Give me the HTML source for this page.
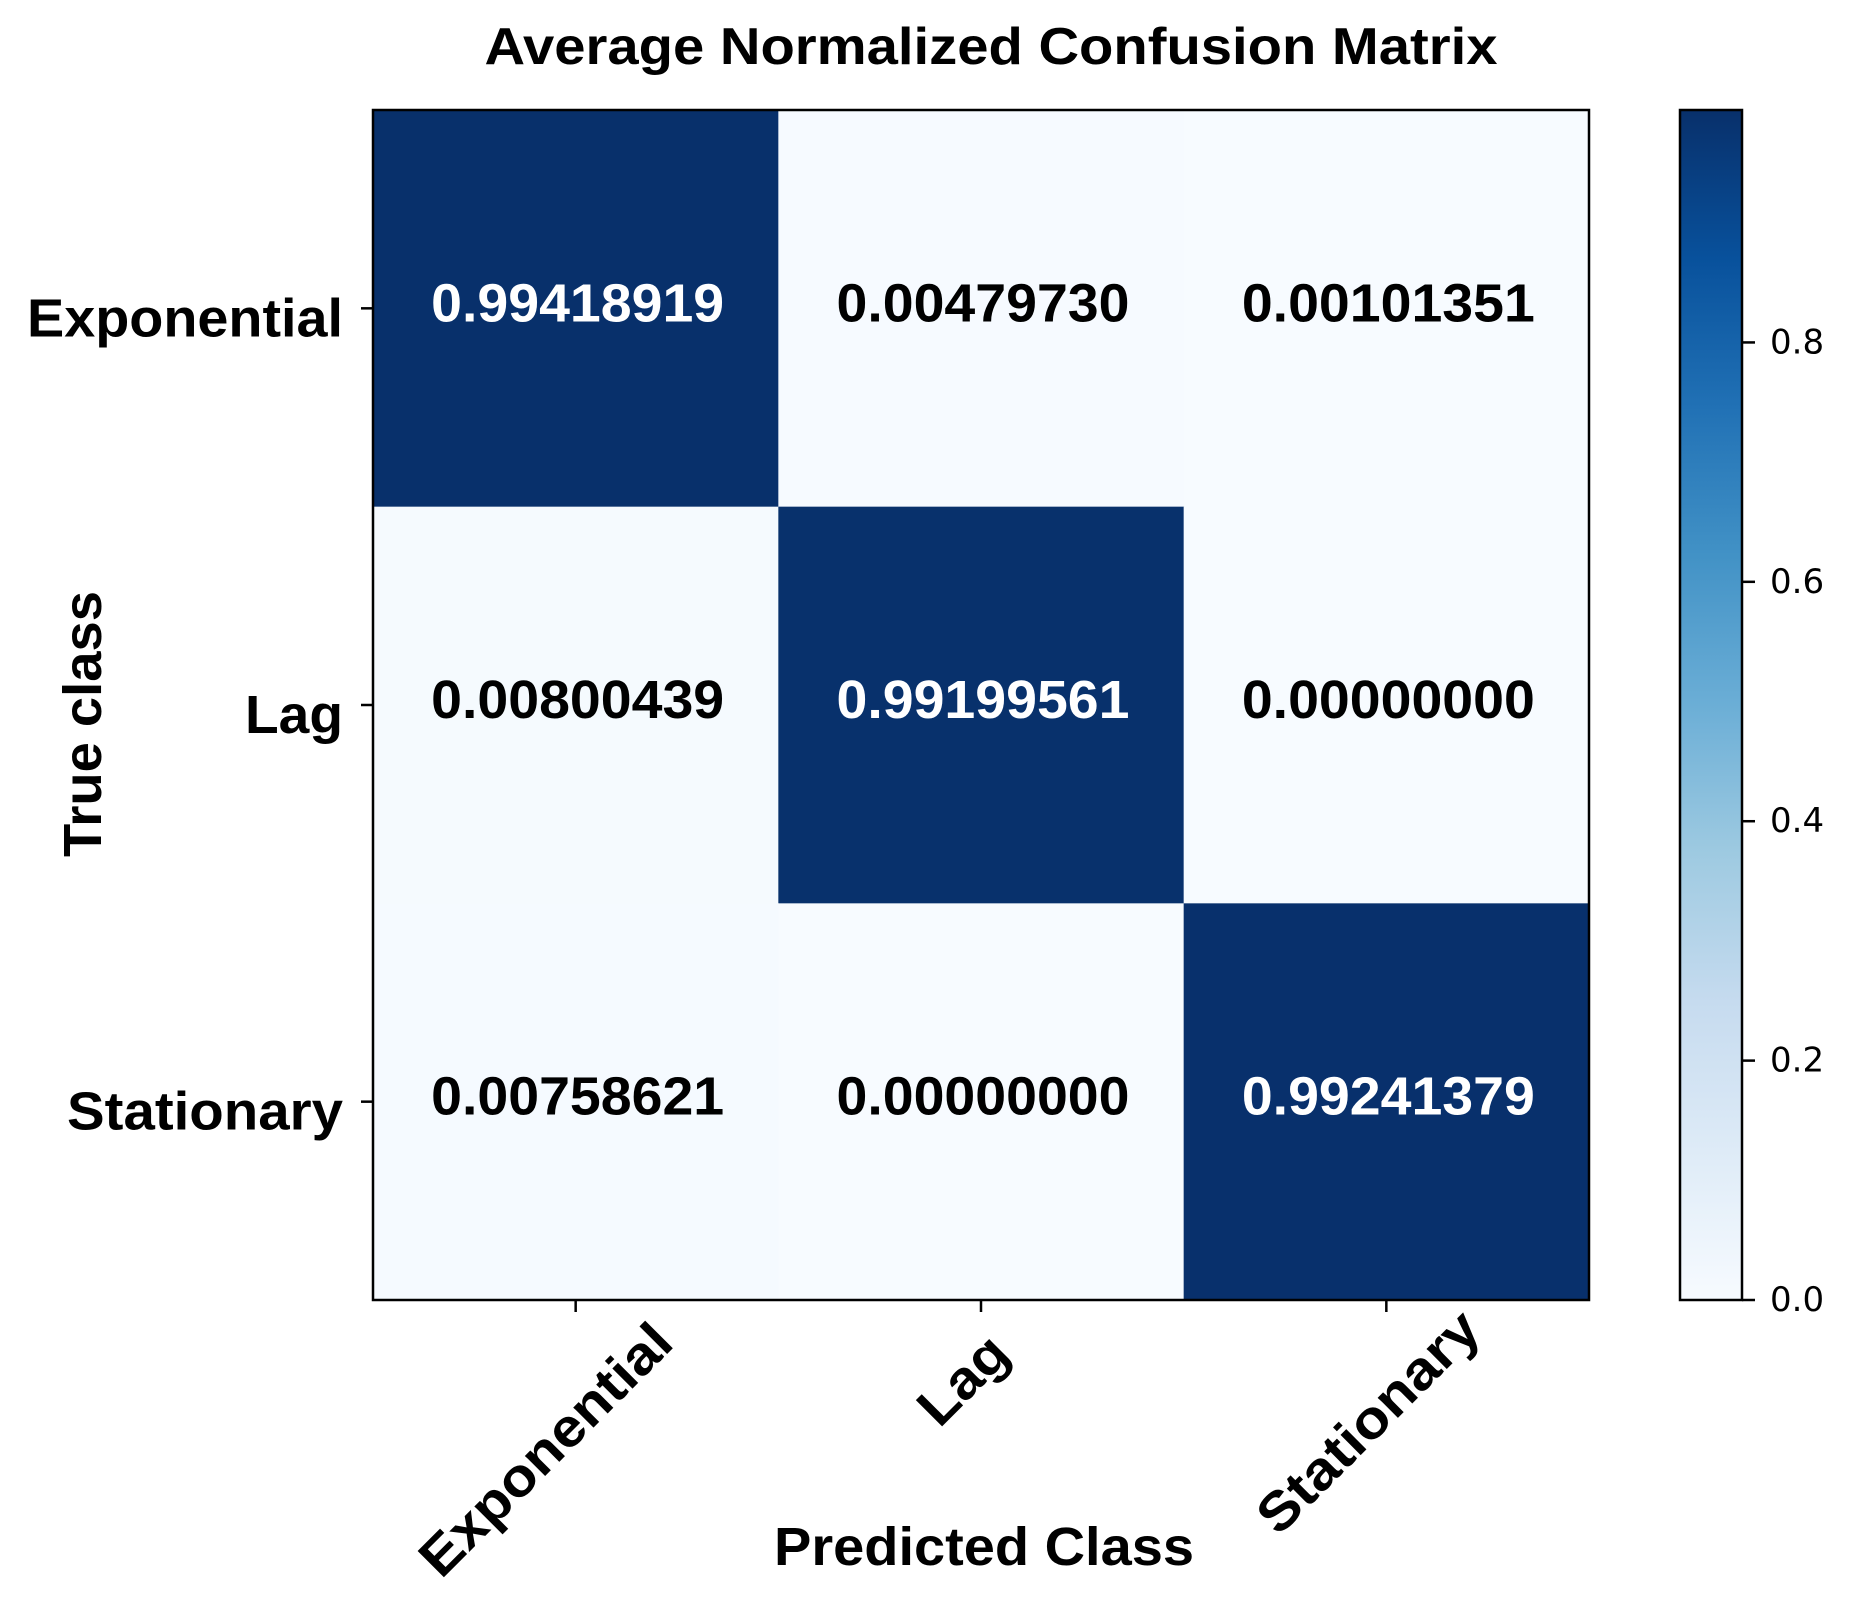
<!DOCTYPE html>
<html><head><meta charset="utf-8"><style>
html,body{margin:0;padding:0;background:#fff;}
svg{display:block;}
text{font-family:"Liberation Sans",Arial,sans-serif;}
</style></head><body>
<svg id="chart" width="1849" height="1597" viewBox="0 0 1849 1597" xmlns="http://www.w3.org/2000/svg">
<defs><linearGradient id="cbgrad" x1="0" y1="1" x2="0" y2="0"></linearGradient></defs>
<text x="991" y="47" text-anchor="middle" dominant-baseline="central" font-size="52" font-weight="bold" textLength="1013" lengthAdjust="spacingAndGlyphs">Average Normalized Confusion Matrix</text>
<g id="cells"></g>
<rect x="373" y="110" width="1216" height="1190" fill="none" stroke="#000" stroke-width="2.5"/>
<g id="ticks"></g>
<text transform="translate(83,724) rotate(-90)" text-anchor="middle" dominant-baseline="central" font-size="54" font-weight="bold" textLength="266" lengthAdjust="spacingAndGlyphs">True class</text>
<text x="984" y="1547" text-anchor="middle" dominant-baseline="central" font-size="54" font-weight="bold" textLength="420" lengthAdjust="spacingAndGlyphs">Predicted Class</text>
<rect x="1680" y="110" width="62" height="1190" fill="url(#cbgrad)" stroke="#000" stroke-width="2.5"/>
<g id="cbticks"></g>
</svg>
<script>
const categories = ["Exponential", "Lag", "Stationary"];
const row0 = [0.99418919, 0.00479730, 0.00101351];
const row1 = [0.00800439, 0.99199561, 0.00000000];
const row2 = [0.00758621, 0.00000000, 0.99241379];
const matrix = [row0, row1, row2];
const cbTickValues = [0.0, 0.2, 0.4, 0.6, 0.8];
const cbTickLabels = ["0.0", "0.2", "0.4", "0.6", "0.8"];

const NS = "http://www.w3.org/2000/svg";
const X0 = 373, X1 = 1589, Y0 = 110, Y1 = 1300;
const n = categories.length;
const cw = (X1 - X0) / n, ch = (Y1 - Y0) / n;
const vmin = 0, vmax = Math.max(...matrix.flat());
const xPos = i => X0 + i * cw;
const yPos = j => Y0 + j * ch;
const cbY = v => Y1 - (v - vmin) / (vmax - vmin) * (Y1 - Y0);
const blues = ["#f7fbff","#deebf7","#c6dbef","#9ecae1","#6baed6","#4292c6","#2171b5","#08519c","#08306b"];
function hex(h){return [1,3,5].map(k=>parseInt(h.substr(k,2),16));}
function color(v){
  let t = Math.max(0, Math.min(1, (v - vmin) / (vmax - vmin))) * (blues.length - 1);
  let i = Math.min(Math.floor(t), blues.length - 2), f = t - i;
  let a = hex(blues[i]), b = hex(blues[i+1]);
  return "rgb(" + a.map((c,k)=>Math.round(c + (b[k]-c)*f)).join(",") + ")";
}
function mk(tag, attrs, parent){const e=document.createElementNS(NS,tag);for(const k in attrs)e.setAttribute(k,attrs[k]);parent.appendChild(e);return e;}

const grad = document.getElementById("cbgrad");
blues.forEach((c,i)=>mk("stop",{offset:(i/(blues.length-1)),"stop-color":c},grad));

const cells = document.getElementById("cells");
matrix.forEach((row,j)=>row.forEach((v,i)=>{
  const r = mk("rect",{x:xPos(i),y:yPos(j),width:cw+0.5,height:ch+0.5,fill:color(v)},cells);
  
  
  const t = mk("text",{x:xPos(i)+cw/2+2,y:yPos(j)+ch/2-5,"text-anchor":"middle","dominant-baseline":"central","font-size":"54","font-weight":"bold",fill:(v>vmax/2?"#fff":"#000"),textLength:"293",lengthAdjust:"spacingAndGlyphs"},cells);
  t.textContent = v.toFixed(8);
  
  
}));

const ticks = document.getElementById("ticks");
const yLens = [316, 98, 276];
const xOff = [[-30,1450],[-18,1380],[-18,1422]];
categories.forEach((c,j)=>{
  const yc = yPos(j)+ch/2;
  mk("line",{x1:X0-12,y1:yc,x2:X0,y2:yc,stroke:"#000","stroke-width":2.5},ticks);
  const t = mk("text",{x:X0-30,y:yc+10,"text-anchor":"end","dominant-baseline":"central","font-size":"54","font-weight":"bold",textLength:yLens[j],lengthAdjust:"spacingAndGlyphs"},ticks);
  t.textContent = c;
  
  
});
categories.forEach((c,i)=>{
  const xc = xPos(i)+cw/2;
  mk("line",{x1:xc,y1:Y1,x2:xc,y2:Y1+12,stroke:"#000","stroke-width":2.5},ticks);
  const t = mk("text",{x:0,y:0,transform:"translate("+(xc+xOff[i][0])+","+xOff[i][1]+") rotate(-45)","text-anchor":"middle","dominant-baseline":"central","font-size":"54","font-weight":"bold",textLength:yLens[i]*1.05,lengthAdjust:"spacingAndGlyphs"},ticks);
  t.textContent = c;
  
  
});

const cbt = document.getElementById("cbticks");
cbTickValues.forEach((v,k)=>{
  const y = cbY(v);
  mk("line",{x1:1742,y1:y,x2:1755,y2:y,stroke:"#000","stroke-width":2.5},cbt);
  const t = mk("text",{x:1770,y:y,"dominant-baseline":"central","font-size":"34",style:"font-family:'DejaVu Sans',sans-serif"},cbt);
  t.textContent = cbTickLabels[k];
  
  
});
</script>
</body></html>
